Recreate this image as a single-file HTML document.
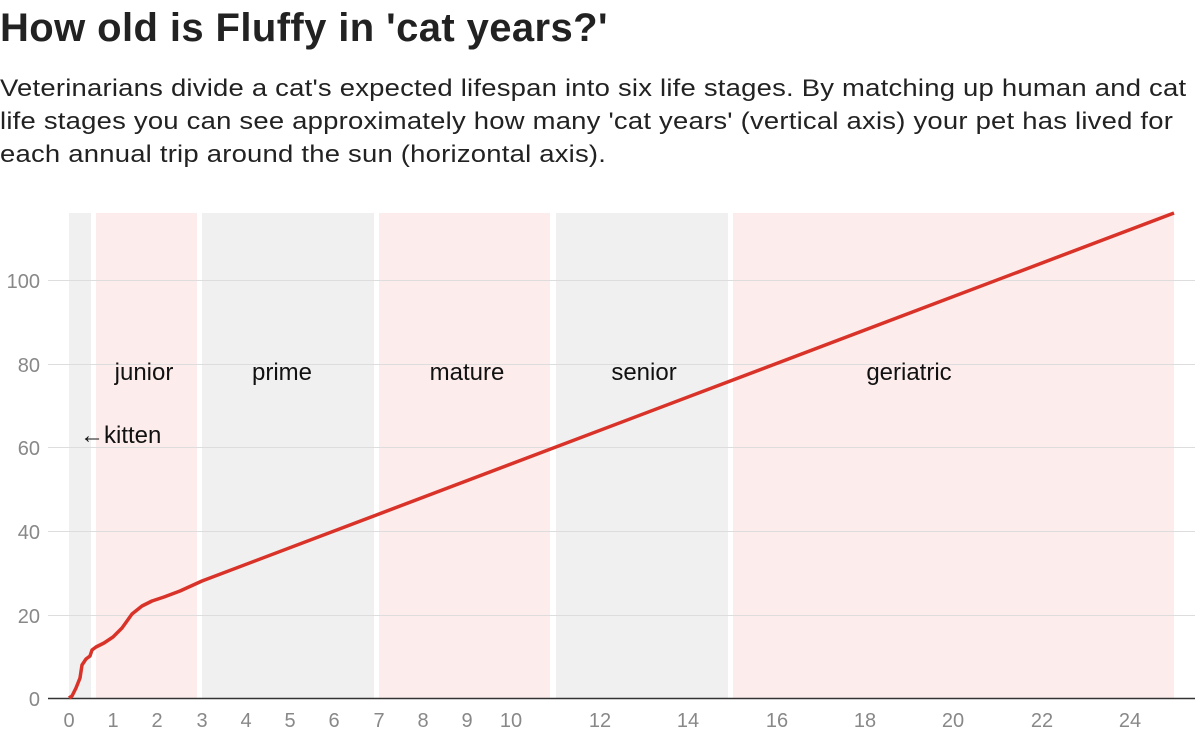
<!DOCTYPE html>
<html><head><meta charset="utf-8"><style>
body{margin:0;background:#fff;font-family:"Liberation Sans",sans-serif;}
h1{position:absolute;left:0;top:0;margin:0;font-size:40px;font-weight:bold;color:#222;line-height:56px;letter-spacing:0.4px;}
p{position:absolute;left:0;top:72px;margin:0;font-size:24px;line-height:33px;color:#222;white-space:nowrap;letter-spacing:0.2px;transform:scaleX(1.143);transform-origin:0 0;}
svg{position:absolute;left:0;top:0;}
</style></head><body>
<h1>How old is Fluffy in 'cat years?'</h1>
<p>Veterinarians divide a cat's expected lifespan into six life stages. By matching up human and cat<br>life stages you can see approximately how many 'cat years' (vertical axis) your pet has lived for<br>each annual trip around the sun (horizontal axis).</p>
<svg width="1200" height="755" font-family="Liberation Sans, sans-serif">
<g>
<rect x="69" y="213" width="22" height="485" fill="#f0f0f0"/>
<rect x="96" y="213" width="101" height="485" fill="#fdecec"/>
<rect x="202" y="213" width="172" height="485" fill="#f0f0f0"/>
<rect x="379" y="213" width="171" height="485" fill="#fdecec"/>
<rect x="556" y="213" width="172" height="485" fill="#f0f0f0"/>
<rect x="733" y="213" width="441" height="485" fill="#fdecec"/>
</g>
<g stroke="#ddd" stroke-width="1">
<line x1="48" x2="1195" y1="280.5" y2="280.5"/>
<line x1="48" x2="1195" y1="364.5" y2="364.5"/>
<line x1="48" x2="1195" y1="447.5" y2="447.5"/>
<line x1="48" x2="1195" y1="531.5" y2="531.5"/>
<line x1="48" x2="1195" y1="615.5" y2="615.5"/>
</g>
<line x1="48" x2="1195" y1="698.5" y2="698.5" stroke="#333" stroke-width="1.5"/>
<g font-size="20" fill="#888" text-anchor="end">
<text x="40" y="288">100</text><text x="40" y="372">80</text><text x="40" y="455">60</text>
<text x="40" y="539">40</text><text x="40" y="623">20</text><text x="40" y="706">0</text>
</g>
<g font-size="20" fill="#888" text-anchor="middle">
<text x="69" y="727">0</text><text x="113" y="727">1</text><text x="157" y="727">2</text><text x="202" y="727">3</text>
<text x="246" y="727">4</text><text x="290" y="727">5</text><text x="334" y="727">6</text><text x="379" y="727">7</text>
<text x="423" y="727">8</text><text x="467" y="727">9</text><text x="511" y="727">10</text><text x="600" y="727">12</text>
<text x="688" y="727">14</text><text x="777" y="727">16</text><text x="865" y="727">18</text><text x="953" y="727">20</text>
<text x="1042" y="727">22</text><text x="1130" y="727">24</text>
</g>
<g font-size="24" fill="#111" text-anchor="middle">
<text x="144" y="380">junior</text><text x="282" y="380">prime</text><text x="467" y="380">mature</text>
<text x="644" y="380">senior</text><text x="909" y="380">geriatric</text>
<text x="80" y="443" text-anchor="start">←kitten</text>
</g>
<path d="M69,698 L72,696 L76,688 L80,678 L82,665 L86,659 L90,656 L92,650 L96,647 L104,643 L113,637 L122,628 L132,614 L142,606 L152,601 L164,597 L180,591 L202,581 L1174,213" fill="none" stroke="#d93329" stroke-width="3.5" stroke-linejoin="round"/>
</svg>
</body></html>
